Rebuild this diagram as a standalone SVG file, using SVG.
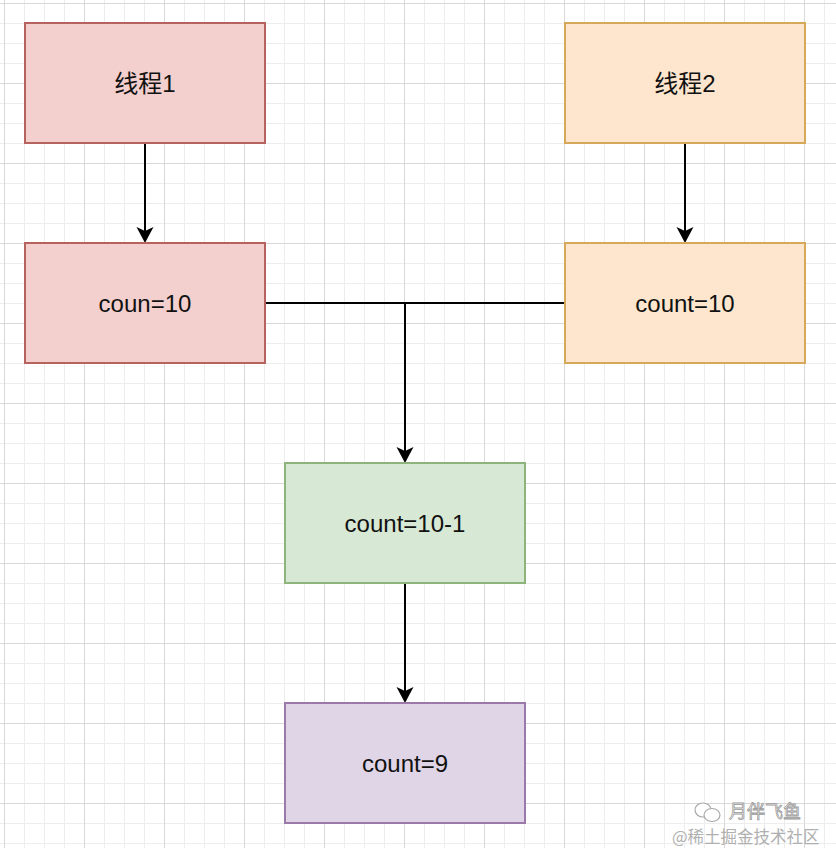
<svg xmlns="http://www.w3.org/2000/svg" width="836" height="848" viewBox="0 0 836 848">
<defs>
<pattern id="minor" x="4" y="3" width="20" height="20" patternUnits="userSpaceOnUse">
<path d="M0.5,0 V20 M0,0.5 H20" stroke="#ededed" stroke-width="1" fill="none"/>
</pattern>
<pattern id="major" x="4" y="3" width="80" height="80" patternUnits="userSpaceOnUse">
<path d="M0.5,0 V80 M0,0.5 H80" stroke="#d9d9d9" stroke-width="1" fill="none"/>
</pattern>
<marker id="arrow" viewBox="-5 -9 18 18" refX="0" refY="0" markerWidth="18" markerHeight="18" markerUnits="userSpaceOnUse" orient="auto">
<path d="M12,0 L-4,-8.5 L0,0 L-4,8.5 Z" fill="#000"/>
</marker>
<style>
.box{stroke-width:2}
.red{fill:#f3cfcd;stroke:#b6625e}
.orange{fill:#fde6cd;stroke:#d6a85a}
.green{fill:#d7e8d4;stroke:#8db57b}
.purple{fill:#e0d5e7;stroke:#9b7aa9}
.lbl{font-family:"Liberation Sans","Noto Sans CJK SC",sans-serif;font-size:24px;fill:#111;text-anchor:middle}
.edge{stroke:#000;stroke-width:2;fill:none}
.wm{font-family:"Noto Sans CJK SC",sans-serif}
</style>
</defs>
<rect width="836" height="848" fill="#ffffff"/>
<rect width="836" height="848" fill="url(#minor)"/>
<rect width="836" height="848" fill="url(#major)"/>

<g id="connectors">
<path class="edge" d="M145,143 V231" marker-end="url(#arrow)"/>
<path class="edge" d="M685,143 V231" marker-end="url(#arrow)"/>
<path class="edge" d="M265,303 H565"/>
<path class="edge" d="M405,303 V451" marker-end="url(#arrow)"/>
<path class="edge" d="M405,583 V691" marker-end="url(#arrow)"/>
</g>

<g id="node-thread1">
<rect class="box red" x="25" y="23" width="240" height="120"/>
<text class="lbl" x="145" y="92">线程1</text>
</g>
<g id="node-thread2">
<rect class="box orange" x="565" y="23" width="240" height="120"/>
<text class="lbl" x="685" y="92">线程2</text>
</g>
<g id="node-coun">
<rect class="box red" x="25" y="243" width="240" height="120"/>
<text class="lbl" x="145" y="312">coun=10</text>
</g>
<g id="node-count2">
<rect class="box orange" x="565" y="243" width="240" height="120"/>
<text class="lbl" x="685" y="312">count=10</text>
</g>
<g id="node-minus">
<rect class="box green" x="285" y="463" width="240" height="120"/>
<text class="lbl" x="405" y="532">count=10-1</text>
</g>
<g id="node-result">
<rect class="box purple" x="285" y="703" width="240" height="120"/>
<text class="lbl" x="405" y="772">count=9</text>
</g>

<g id="watermark">
<ellipse cx="703" cy="810" rx="8" ry="7" fill="#fff" stroke="#aaa" stroke-width="1.2"/>
<ellipse cx="712" cy="815" rx="8" ry="6.5" fill="#fff" stroke="#aaa" stroke-width="1.2"/>
<text class="wm" x="729" y="818" font-size="18" fill="#fff" stroke="#9a9a9a" stroke-width="0.8">月伴飞鱼</text>
<text class="wm" x="672" y="843" font-size="16.5" fill="#b0b0b0">@稀土掘金技术社区</text>
</g>
</svg>
